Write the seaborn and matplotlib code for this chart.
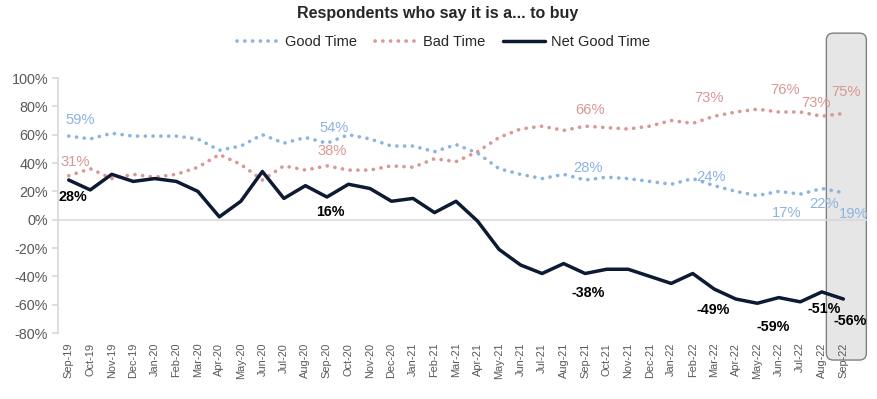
import matplotlib
matplotlib.use('Agg')
import matplotlib.pyplot as plt
from matplotlib.patches import FancyBboxPatch
from matplotlib.transforms import IdentityTransform
import numpy as np
import pandas as pd
import seaborn as sns

months = ['Sep-19', 'Oct-19', 'Nov-19', 'Dec-19', 'Jan-20', 'Feb-20', 'Mar-20',
          'Apr-20', 'May-20', 'Jun-20', 'Jul-20', 'Aug-20', 'Sep-20', 'Oct-20',
          'Nov-20', 'Dec-20', 'Jan-21', 'Feb-21', 'Mar-21', 'Apr-21', 'May-21',
          'Jun-21', 'Jul-21', 'Aug-21', 'Sep-21', 'Oct-21', 'Nov-21', 'Dec-21',
          'Jan-22', 'Feb-22', 'Mar-22', 'Apr-22', 'May-22', 'Jun-22', 'Jul-22',
          'Aug-22', 'Sep-22']
good_time = [59, 57, 61, 59, 59, 59, 57, 49, 52, 60, 54, 58, 54, 60, 57, 52, 52,
             48, 53, 47, 36, 32, 29, 32, 28, 30, 29, 27, 25, 29, 24, 20, 17, 20,
             18, 22, 19]
bad_time = [31, 36, 29, 32, 30, 32, 37, 46, 39, 28, 38, 35, 38, 35, 35, 38, 37,
            43, 41, 48, 58, 64, 66, 63, 66, 65, 64, 66, 70, 68, 73, 76, 78, 76,
            76, 73, 75]
net_good_time = [28, 21, 32, 27, 29, 27, 20, 2, 13, 34, 15, 24, 16, 25, 22, 13,
                 15, 5, 13, -1, -21, -32, -38, -31, -38, -35, -35, -40, -45, -38,
                 -49, -56, -59, -55, -58, -51, -56]

# which months get a value callout, with the callout offset in pixels
good_callouts = [('Sep-19', 11, 16), ('Sep-20', 7, 15), ('Sep-21', 3, 12),
                 ('Mar-22', -3, 9), ('May-22', 29, -17), ('Aug-22', 2, -15),
                 ('Sep-22', 10, -21)]
bad_callouts = [('Sep-19', 7, 14), ('Sep-20', 5, 15), ('Sep-21', 5, 16),
                ('Mar-22', -5, 18), ('Jun-22', 6, 22), ('Aug-22', -6, 13),
                ('Sep-22', 3, 21)]
net_callouts = [('Sep-19', 4, -17), ('Sep-20', 3, -15), ('Sep-21', 3, -19),
                ('Mar-22', -1, -21), ('May-22', 16, -24), ('Aug-22', 2, -17),
                ('Sep-22', 7, -22)]

GOOD = '#8db3e2'
BAD = '#d99795'
NET = '#0c1a33'
GREY = '#595959'

df = pd.DataFrame({'Month': months, 'Good Time': good_time,
                   'Bad Time': bad_time, 'Net Good Time': net_good_time})
df['pos'] = np.arange(len(df))

sns.set_theme(style='white')
plt.rcParams['font.family'] = ['Liberation Sans', 'DejaVu Sans']

fig, ax = plt.subplots(figsize=(8.78, 3.99), dpi=100)
fig.subplots_adjust(left=0.066, right=0.9875, top=0.8045, bottom=0.1654)

dots = (0, (0.05, 2.1))
sns.lineplot(data=df, x='pos', y='Good Time', ax=ax, color=GOOD, linewidth=2.6,
             linestyle=dots, dash_capstyle='round', label='Good Time')
sns.lineplot(data=df, x='pos', y='Bad Time', ax=ax, color=BAD, linewidth=2.6,
             linestyle=dots, dash_capstyle='round', label='Bad Time')
sns.lineplot(data=df, x='pos', y='Net Good Time', ax=ax, color=NET,
             linewidth=2.5, label='Net Good Time')

ax.axhline(0, color='#d9d9d9', lw=1.2, zorder=0.8)
ax.set_xlim(-0.5, 37.1)
ax.set_ylim(-80, 100)
yt = np.arange(-80, 101, 20)
ax.set_yticks(yt)
ax.set_yticklabels([f'{v}%' for v in yt], fontsize=10.4, color=GREY)
ax.set_xticks(df['pos'])
ax.set_xticklabels(months, rotation=90, fontsize=7.9, color=GREY)
ax.tick_params(axis='y', left=True, length=4, color='#d9d9d9', pad=3)
ax.tick_params(axis='x', bottom=False, length=0, pad=7)
ax.set_xlabel('')
ax.set_ylabel('')
for s in ['top', 'right', 'bottom']:
    ax.spines[s].set_visible(False)
ax.spines['left'].set_color('#d9d9d9')
ax.grid(False)


def callouts(items, col, color, bold):
    for m, dx, dy in items:
        i = months.index(m)
        v = df[col].iloc[i]
        ax.annotate(f'{v}%', (i, v), xytext=(dx, dy), textcoords='offset pixels',
                    ha='center', va='center', fontsize=10.3 if bold else 10.6,
                    color=color, fontweight='bold' if bold else 'normal',
                    annotation_clip=False, zorder=5)


callouts(good_callouts, 'Good Time', GOOD, False)
callouts(bad_callouts, 'Bad Time', BAD, False)
callouts(net_callouts, 'Net Good Time', 'black', True)

# highlight box round the latest month
fig.canvas.draw()
x0, _ = ax.transData.transform((len(months) - 1 - 0.79, 0))
x1, _ = ax.transData.transform((len(months) - 1 + 1.07, 0))
_, y0 = ax.transAxes.transform((0, -0.106))
_, y1 = ax.transAxes.transform((0, 1.176))
box = FancyBboxPatch((x0, y0), x1 - x0, y1 - y0,
                     boxstyle='round,pad=0,rounding_size=7',
                     transform=IdentityTransform(), facecolor='#e6e6e6',
                     edgecolor='#808080', lw=1.0, zorder=0.5, clip_on=False)
ax.add_artist(box)

handles, labels = ax.get_legend_handles_labels()
ax.get_legend().remove()
fig.legend(handles, labels, loc='center', bbox_to_anchor=(0.505, 0.895),
           ncol=3, frameon=False, fontsize=10.5, handlelength=2.9,
           handletextpad=0.4, columnspacing=1.2)
fig.suptitle('Respondents who say it is a... to buy', x=0.498, y=0.967,
             fontsize=11.5, fontweight='bold', va='center')

fig.savefig('out.png', dpi=100)
